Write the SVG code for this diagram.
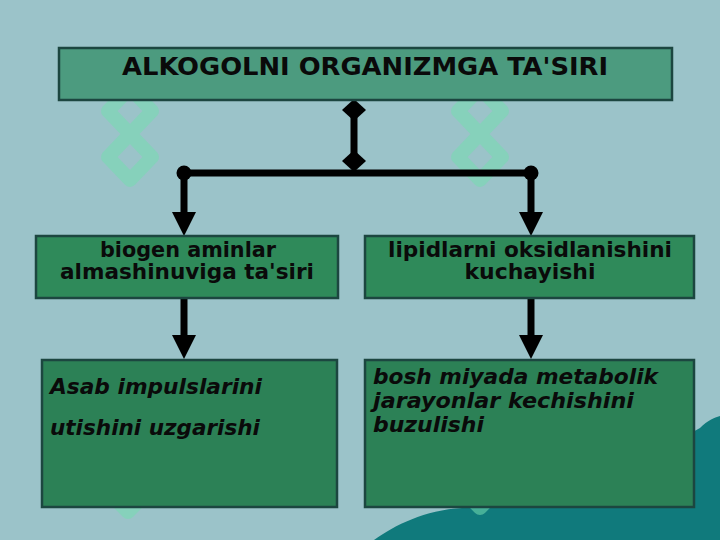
<svg xmlns="http://www.w3.org/2000/svg" width="720" height="540" viewBox="0 0 720 540">
<defs>
<style>
.bg{fill:#9bc3c9}
.wm{fill:none;stroke:#74dcae;stroke-width:14;stroke-linejoin:round;opacity:0.55}
.box{stroke:#1c4640;stroke-width:2.5}
.t0{fill:#4c9b7f}
.t1{fill:#2f8a5a}
.t2{fill:#2c8156}
.txt{font-family:"DejaVu Sans Condensed","DejaVu Sans",Verdana,sans-serif;font-weight:bold;fill:#0a0a0a}
.it{font-style:italic}
.ln{stroke:#000;stroke-width:7;fill:none}
</style>
<marker id="ah" viewBox="0 0 24 24" refX="2" refY="12" markerWidth="24" markerHeight="24" markerUnits="userSpaceOnUse" orient="auto">
<path d="M0,0 L24,12 L0,24 Z" fill="#000"/>
</marker>
</defs>
<rect class="bg" x="0" y="0" width="720" height="540"/>
<path d="M374,540 C395,525 425,510 462,508 C500,500 540,492 575,485 C620,470 660,450 700,428 C708,420 714,418 720,416 L720,540 Z" fill="#107a7c"/>
<g id="watermarks">
<g transform="translate(130,134)"><path class="wm" d="M0,-46 L22,-23 L0,0 L-22,-23 Z M0,0 L22,23 L0,46 L-22,23 Z"/></g>
<g transform="translate(480,134)"><path class="wm" d="M0,-46 L22,-23 L0,0 L-22,-23 Z M0,0 L22,23 L0,46 L-22,23 Z"/></g>
<g transform="translate(128,462)"><path class="wm" d="M0,-50 L25,-25 L0,0 L-25,-25 Z M0,0 L25,25 L0,50 L-25,25 Z"/></g>
<g transform="translate(480,458)"><path class="wm" d="M0,-50 L25,-25 L0,0 L-25,-25 Z M0,0 L25,25 L0,50 L-25,25 Z"/></g>
</g>
<g id="connectors">
<line class="ln" x1="354" y1="108" x2="354" y2="162"/>
<path d="M354,99 L366,110 L354,121 L342,110 Z" fill="#000"/>
<path d="M354,150 L366,161 L354,172 L342,161 Z" fill="#000"/>
<line class="ln" x1="184" y1="173" x2="531" y2="173"/>
<circle cx="184" cy="173" r="7.5" fill="#000"/>
<circle cx="531" cy="173" r="7.5" fill="#000"/>
<line class="ln" x1="184" y1="173" x2="184" y2="214" marker-end="url(#ah)"/>
<line class="ln" x1="531" y1="173" x2="531" y2="214" marker-end="url(#ah)"/>
<line class="ln" x1="184" y1="299" x2="184" y2="337" marker-end="url(#ah)"/>
<line class="ln" x1="531" y1="299" x2="531" y2="337" marker-end="url(#ah)"/>
</g>
<g id="title">
<rect class="box t0" x="59" y="48" width="613" height="52"/>
<text class="txt" x="365" y="75" font-size="25" text-anchor="middle" textLength="486" lengthAdjust="spacingAndGlyphs">ALKOGOLNI ORGANIZMGA TA'SIRI</text>
</g>
<g id="n1">
<rect class="box t1" x="36" y="236" width="302" height="62"/>
<text class="txt" x="188" y="257" font-size="21" text-anchor="middle" textLength="176" lengthAdjust="spacingAndGlyphs">biogen aminlar</text>
<text class="txt" x="187" y="279" font-size="21" text-anchor="middle" textLength="254" lengthAdjust="spacingAndGlyphs">almashinuviga ta'siri</text>
</g>
<g id="n2">
<rect class="box t1" x="365" y="236" width="329" height="62"/>
<text class="txt" x="530" y="257" font-size="21" text-anchor="middle" textLength="284" lengthAdjust="spacingAndGlyphs">lipidlarni oksidlanishini</text>
<text class="txt" x="530" y="279" font-size="21" text-anchor="middle" textLength="131" lengthAdjust="spacingAndGlyphs">kuchayishi</text>
</g>
<g id="n3">
<rect class="box t2" x="42" y="360" width="295" height="147"/>
<text class="txt it" x="50" y="394" font-size="21" textLength="212" lengthAdjust="spacingAndGlyphs">Asab impulslarini</text>
<text class="txt it" x="50" y="435" font-size="21" textLength="210" lengthAdjust="spacingAndGlyphs">utishini uzgarishi</text>
</g>
<g id="n4">
<rect class="box t2" x="365" y="360" width="329" height="147"/>
<text class="txt it" x="373" y="384" font-size="21" textLength="285" lengthAdjust="spacingAndGlyphs">bosh miyada metabolik</text>
<text class="txt it" x="373" y="408" font-size="21" textLength="261" lengthAdjust="spacingAndGlyphs">jarayonlar kechishini</text>
<text class="txt it" x="373" y="432" font-size="21" textLength="111" lengthAdjust="spacingAndGlyphs">buzulishi</text>
</g>
</svg>
